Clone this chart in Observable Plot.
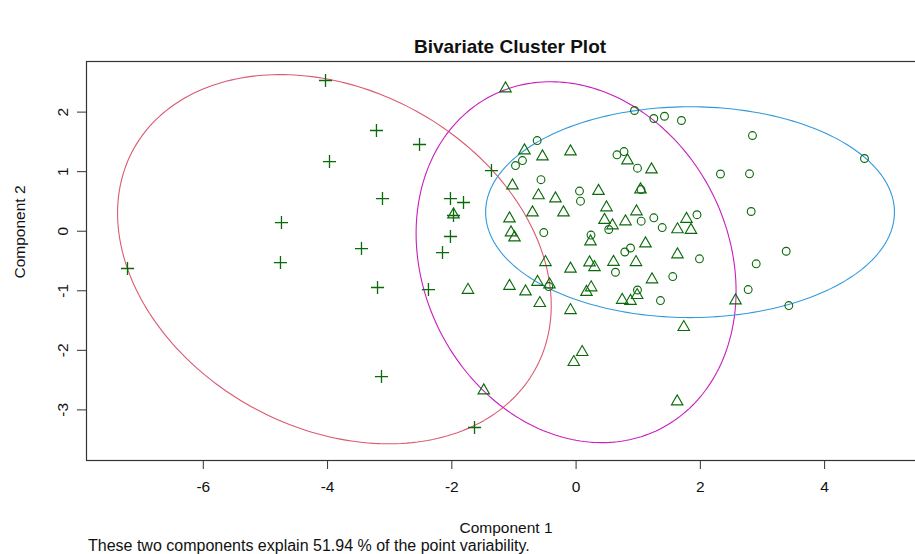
<!DOCTYPE html>
<html><head><meta charset="utf-8">
<script src="https://cdn.jsdelivr.net/npm/d3@7"></script>
<script src="https://cdn.jsdelivr.net/npm/@observablehq/plot@0.6"></script>
<style>
html,body{margin:0;padding:0;background:#fff;overflow:hidden;}
#wrap{position:relative;width:915px;height:554px;overflow:hidden;font-family:"Liberation Sans",Arial,Helvetica,sans-serif;color:#111;}
#chart{position:absolute;left:0;top:0;width:940px;}
#chart svg{max-width:none !important;width:940px;height:554px;}
.t{position:absolute;white-space:nowrap;}
#title{left:510px;top:37px;transform:translateX(-50%);font-weight:bold;font-size:19px;line-height:19px;}
#xlab{left:506px;top:520px;transform:translateX(-50%);font-size:15.5px;line-height:16px;}
#ylab{left:20px;top:232px;transform:translate(-50%,-50%) rotate(-90deg);font-size:15.5px;line-height:16px;}
#cap{left:88px;top:538px;font-size:16px;line-height:16px;}
</style></head><body>
<div id="wrap">
<div id="chart"></div>
<div class="t" id="title">Bivariate Cluster Plot</div>
<div class="t" id="xlab">Component 1</div>
<div class="t" id="ylab">Component 2</div>
<div class="t" id="cap">These two components explain 51.94 % of the point variability.</div>
</div>
<script>
// ---- data (component scores) ----
const plusX = [-4.033,-3.213,-2.520,-3.969,-1.362,-3.116,-2.022,-1.812,-1.973,-4.742,-2.022,-3.454,-2.150,-4.758,-7.220,-3.196,-2.376,-3.132,-1.635];
const plusY = [2.531,1.691,1.456,1.170,1.019,0.549,0.549,0.482,0.264,0.146,-0.089,-0.291,-0.358,-0.526,-0.626,-0.945,-0.979,-2.440,-3.296];

const triX = [-1.136,-0.831,-0.541,-0.090,0.827,1.214,-1.024,-0.605,-0.332,0.361,1.037,0.489,-0.702,-0.203,0.972,-1.072,0.457,0.795,0.586,-1.048,-0.991,0.232,1.117,1.632,1.849,1.777,1.632,-0.493,-0.090,0.216,0.296,0.602,0.964,1.222,-1.740,-1.072,-0.814,-0.621,-0.428,-0.584,-0.090,0.167,0.243,0.983,0.742,0.876,1.733,0.098,-0.037,-1.486,1.627,2.566,-1.973];
const triY = [2.396,1.355,1.254,1.338,1.187,1.036,0.767,0.600,0.549,0.675,0.700,0.398,0.314,0.314,0.331,0.213,0.188,0.163,0.096,-0.022,-0.106,-0.173,-0.207,0.029,0.020,0.205,-0.391,-0.521,-0.631,-0.526,-0.605,-0.517,-0.521,-0.811,-0.987,-0.920,-1.013,-0.853,-0.895,-1.209,-1.327,-1.021,-0.945,-1.075,-1.155,-1.172,-1.612,-2.032,-2.200,-2.675,-2.860,-1.164,0.280];

const circX = [0.940,1.251,1.423,1.696,2.839,4.642,-0.626,-0.975,-0.863,0.658,0.771,0.988,2.324,2.791,-0.565,0.055,0.071,1.045,1.048,1.251,1.386,1.946,2.818,-0.520,0.240,0.526,0.784,0.876,1.986,3.382,2.899,0.634,1.556,0.988,1.358,2.770,3.424,-0.439];
const circY = [2.027,1.893,1.931,1.859,1.607,1.221,1.523,1.103,1.187,1.283,1.338,1.058,0.961,0.964,0.865,0.675,0.504,0.700,0.168,0.225,0.062,0.277,0.331,-0.022,-0.064,0.029,-0.349,-0.282,-0.463,-0.336,-0.547,-0.689,-0.761,-0.987,-1.164,-0.979,-1.248,-0.929];

// cluster ellipses: centre, half extents along x and y, correlation
const ellipseCx = [-3.89, 0.00, 1.834];
const ellipseCy = [-0.47, -0.52, 0.32];
const ellipseSx = [3.49, 2.575, 3.29];
const ellipseSy = [3.10, 3.03, 1.77];
const ellipseR  = [-0.25, -0.16, 0.0];

const xTicks = [-6,-4,-2,0,2,4];
const yTicks = [-3,-2,-1,0,1,2];

// ---- build ----
const ellipseColors = ["#DA5A72", "#C81EBE", "#3399DD"];
const pts = (xs, ys) => xs.map((x, i) => ({x, y: ys[i]}));
function outline(i) {
  const out = [];
  const n = 240;
  for (let k = 0; k <= n; k++) {
    const t = 2 * Math.PI * k / n;
    out.push({
      x: ellipseCx[i] + ellipseSx[i] * Math.cos(t),
      y: ellipseCy[i] + ellipseSy[i] * (ellipseR[i] * Math.cos(t) + Math.sqrt(1 - ellipseR[i] ** 2) * Math.sin(t))
    });
  }
  return out;
}
const green = "#0a6a0a";
const fmt = d => String(d);

const chart = Plot.plot({
  width: 940, height: 554,
  marginTop: 61, marginBottom: 94, marginLeft: 86, marginRight: 14,
  x: {domain: [-7.88, 5.64]},
  y: {domain: [-3.85, 2.85]},
  style: {fontFamily: "'Liberation Sans', Arial, Helvetica, sans-serif", background: "white", color: "#111", maxWidth: "none"},
  marks: [
    Plot.frame({stroke: "#333", strokeWidth: 1.2}),
    Plot.axisX({ticks: xTicks, tickSize: 9, tickPadding: 11, tickFormat: fmt, label: null, fontSize: 15.5, stroke: "#333"}),
    Plot.axisY({ticks: yTicks, tickSize: 9, tickPadding: 10, tickRotate: -90, tickFormat: fmt, label: null, fontSize: 15.5, stroke: "#333"}),
    ...[0, 1, 2].map(i => Plot.line(outline(i), {x: "x", y: "y", stroke: ellipseColors[i], strokeWidth: 1.1})),
    Plot.dot(pts(plusX, plusY), {x: "x", y: "y", symbol: "plus", r: 4.3, stroke: green, strokeWidth: 1.3}),
    Plot.dot(pts(triX, triY), {x: "x", y: "y", symbol: "triangle2", r: 5.5, stroke: green, strokeWidth: 1.1, fill: "none"}),
    Plot.dot(pts(circX, circY), {x: "x", y: "y", symbol: "circle", r: 3.9, stroke: green, strokeWidth: 1.1, fill: "none"})
  ]
});
chart.style.maxWidth = "none";
document.getElementById("chart").appendChild(chart);
</script>
</body></html>
